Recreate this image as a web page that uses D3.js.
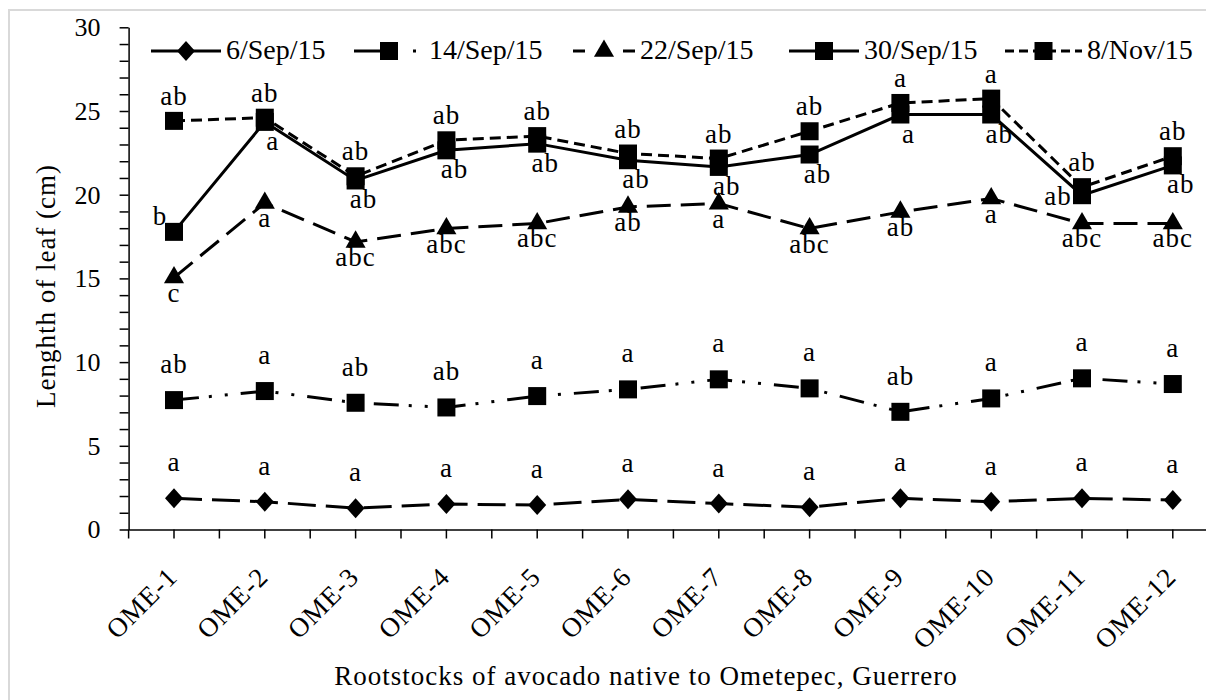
<!DOCTYPE html>
<html>
<head>
<meta charset="utf-8">
<script src="https://cdn.jsdelivr.net/npm/d3@7"></script>
<style>
  body { margin: 0; background: #fff; }
  svg text { font-family: "Liberation Serif", "Times New Roman", serif; fill: #000; }
</style>
</head>
<body>
<div id="chart"></div>
<script>
// Setting up sizes
const width = 1206;
const height = 700;

// Data
const categories = ["OME-1", "OME-2", "OME-3", "OME-4", "OME-5", "OME-6",
                    "OME-7", "OME-8", "OME-9", "OME-10", "OME-11", "OME-12"];

const seriesNames = ["6/Sep/15", "14/Sep/15", "22/Sep/15", "30/Sep/15", "8/Nov/15"];

const sep6  = [1.86, 1.66, 1.27, 1.52, 1.46, 1.80, 1.55, 1.33, 1.86, 1.66, 1.86, 1.76];
const sep14 = [7.73, 8.27, 7.57, 7.29, 7.97, 8.37, 8.97, 8.43, 7.03, 7.83, 9.03, 8.69];
const sep22 = [15.05, 19.5, 17.18, 17.98, 18.28, 19.27, 19.47, 17.98, 18.97, 19.77, 18.28, 18.28];
const sep30 = [17.78, 24.35, 20.85, 22.65, 23.05, 22.06, 21.66, 22.4, 24.79, 24.79, 19.97, 21.75];
const nov8  = [24.41, 24.6, 21.1, 23.25, 23.5, 22.46, 22.16, 23.79, 25.48, 25.74, 20.45, 22.3];

// significance letters
const sep6Letters  = ["a", "a", "a", "a", "a", "a", "a", "a", "a", "a", "a", "a"];
const sep14Letters = ["ab", "a", "ab", "ab", "a", "a", "a", "a", "ab", "a", "a", "a"];
const sep22Letters = ["c", "a", "abc", "abc", "abc", "ab", "a", "abc", "ab", "a", "abc", "abc"];
const sep30Letters = ["b", "a", "ab", "ab", "ab", "ab", "ab", "ab", "a", "ab", "ab", "ab"];
const nov8Letters  = ["ab", "ab", "ab", "ab", "ab", "ab", "ab", "ab", "a", "a", "ab", "ab"];

// where the 30/Sep letter sits relative to its marker
const sep30Place = ["leftUp", "below", "below", "below", "below", "below",
                    "below", "below", "below", "below", "left", "below"];

const yTicks = d3.range(0, 31);

// styles per series
const styles = [
  { values: sep6,  letters: sep6Letters,  marker: "diamond",  dash: "28,10",            legendDash: null,          dy: -27, dx: 0 },
  { values: sep14, letters: sep14Letters, marker: "square",   dash: "25,10,3,13,3,13",  legendDash: "35,24,3,30",  dy: -27, dx: 0 },
  { values: sep22, letters: sep22Letters, marker: "triangle", dash: "24,10",            legendDash: "12,38,12,20", dy: 24,  dx: 0 },
  { values: sep30, letters: sep30Letters, marker: "square",   dash: null,               legendDash: null,          dy: 28,  dx: 8 },
  { values: nov8,  letters: nov8Letters,  marker: "square",   dash: "11,6",             legendDash: "9,5",         dy: -16, dx: 0 }
];

const legendPos = [
  { x: 151, len: 70 },
  { x: 354, len: 70 },
  { x: 573, len: 62 },
  { x: 789, len: 70 },
  { x: 1005, len: 77 }
];

const svg = d3.select("#chart")
  .append("svg")
  .attr("width", width)
  .attr("height", height);

svg.append("rect")
  .attr("width", width)
  .attr("height", height)
  .attr("fill", "#fff");

// light frame of the original figure (cropped at right/bottom)
svg.append("rect")
  .attr("x", 9)
  .attr("y", 10)
  .attr("width", 1400)
  .attr("height", 900)
  .attr("fill", "none")
  .attr("stroke", "#d9d9d9")
  .attr("stroke-width", 2);

// Scales
const x0 = 128.6, step = 90.8;
const x = d3.scaleBand()
  .domain(categories)
  .range([x0, x0 + step * categories.length])
  .padding(0);

const y = d3.scaleLinear()
  .domain([0, 30])
  .range([529.5, 27.3]);

const cx = d => x(d) + x.bandwidth() / 2;

// Axes
const yAxis = svg.append("g")
  .attr("transform", `translate(${x0},0)`)
  .call(d3.axisLeft(y)
    .tickValues(yTicks)
    .tickSize(9)
    .tickSizeOuter(0)
    .tickPadding(19)
    .tickFormat(d => d % 5 === 0 ? d : ""));

yAxis.selectAll("text").style("font-size", "26px");
yAxis.selectAll("line, path").attr("stroke", "#000").attr("stroke-width", 1.5);

const xAxis = svg.append("g")
  .attr("transform", `translate(0,${y(0)})`)
  .call(d3.axisBottom(x).tickSize(9).tickSizeOuter(0));

xAxis.selectAll("line, path").attr("stroke", "#000").attr("stroke-width", 1.5);
xAxis.selectAll("text")
  .style("font-size", "27px")
  .style("letter-spacing", "1px")
  .attr("text-anchor", "end")
  .attr("x", 0).attr("y", 0).attr("dy", 0)
  .attr("transform", "translate(5,49) rotate(-45)");

// boundary ticks between categories
xAxis.selectAll(".btick")
  .data(d3.range(categories.length + 1))
  .enter()
  .append("line")
  .attr("class", "btick")
  .attr("x1", i => x0 + i * x.step())
  .attr("x2", i => x0 + i * x.step())
  .attr("y1", 0)
  .attr("y2", 9)
  .attr("stroke", "#000")
  .attr("stroke-width", 1.5);

// Axis titles
svg.append("text")
  .attr("x", 646)
  .attr("y", 685)
  .attr("text-anchor", "middle")
  .style("font-size", "27px")
  .style("letter-spacing", "1px")
  .text("Rootstocks of avocado native to Ometepec, Guerrero");

svg.append("text")
  .attr("transform", "translate(55,286) rotate(-90)")
  .attr("text-anchor", "middle")
  .style("font-size", "27px")
  .style("letter-spacing", "1px")
  .text("Lenghth of leaf (cm)");

// Markers
function drawMarker(g, type, px, py) {
  if (type === "square") {
    g.append("rect")
      .attr("x", px - 9).attr("y", py - 9)
      .attr("width", 18).attr("height", 18)
      .attr("fill", "#000");
  } else if (type === "diamond") {
    g.append("path")
      .attr("d", `M${px},${py - 10}L${px + 9},${py}L${px},${py + 10}L${px - 9},${py}Z`)
      .attr("fill", "#000");
  } else {
    g.append("path")
      .attr("transform", `translate(${px},${py})`)
      .attr("d", d3.symbol(d3.symbolTriangle, 175)())
      .attr("fill", "#000");
  }
}

const line = d3.line()
  .x((d, i) => cx(categories[i]))
  .y(d => y(d));

// Lines, markers, letters
styles.forEach((s, k) => {
  const g = svg.append("g").attr("class", "series-" + k);

  g.append("path")
    .datum(s.values)
    .attr("d", line)
    .attr("fill", "none")
    .attr("stroke", "#000")
    .attr("stroke-width", 3)
    .attr("stroke-dasharray", s.dash);

  s.values.forEach((v, i) => drawMarker(g, s.marker, cx(categories[i]), y(v)));

  g.selectAll(".lab")
    .data(s.values)
    .enter()
    .append("text")
    .attr("class", "lab")
    .attr("text-anchor", "middle")
    .style("font-size", "27px")
    .style("letter-spacing", "1px")
    .attr("x", (v, i) => {
      let dx = s.dx;
      if (k === 3 && sep30Place[i] === "leftUp") dx = -14;
      if (k === 3 && sep30Place[i] === "left") dx = -24;
      return cx(categories[i]) + dx;
    })
    .attr("y", (v, i) => {
      let dy = s.dy;
      if (k === 3 && sep30Place[i] === "leftUp") dy = -7;
      if (k === 3 && sep30Place[i] === "left") dy = 10;
      return y(v) + dy;
    })
    .text((v, i) => s.letters[i]);
});

// Legend
const legY = 51;
const legend = svg.append("g").attr("class", "legend");

styles.forEach((s, k) => {
  const p = legendPos[k];
  legend.append("line")
    .attr("x1", p.x).attr("x2", p.x + p.len)
    .attr("y1", legY).attr("y2", legY)
    .attr("stroke", "#000")
    .attr("stroke-width", 3)
    .attr("stroke-dasharray", s.legendDash);

  drawMarker(legend, s.marker, p.x + p.len / 2, legY);

  legend.append("text")
    .attr("x", p.x + p.len + 5)
    .attr("y", legY + 8)
    .style("font-size", "28px")
    .text(seriesNames[k]);
});
</script>
</body>
</html>
